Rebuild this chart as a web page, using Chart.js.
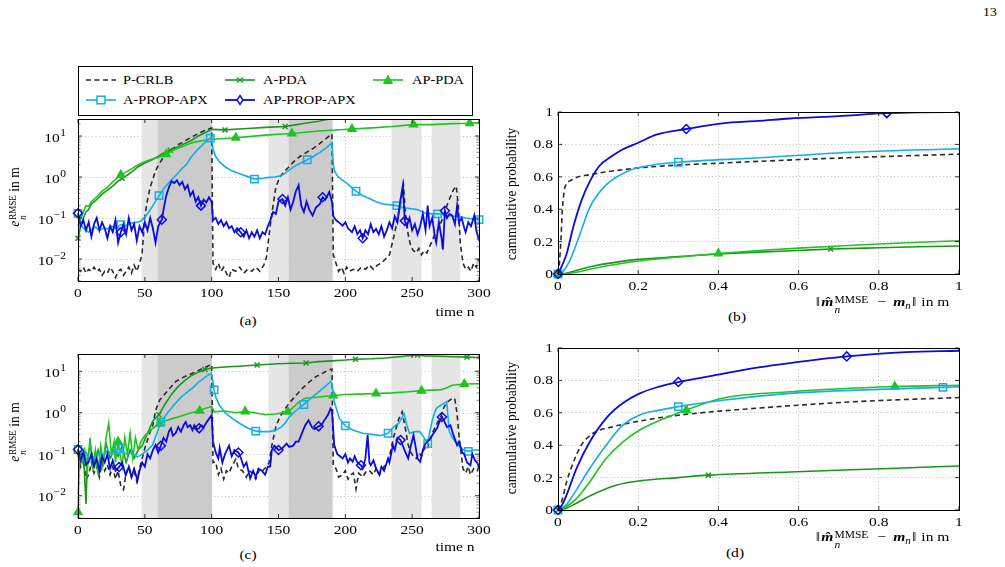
<!DOCTYPE html>
<html>
<head>
<meta charset="utf-8">
<script src="https://cdn.jsdelivr.net/npm/chart.js@4.4.1/dist/chart.umd.min.js"></script>
<style>
  body { margin:0; width:1005px; height:567px; background:#fff; position:relative; overflow:hidden; font-family:"Liberation Serif", serif; color:#000; }
  canvas { position:absolute; }
  .t { position:absolute; transform:translate(-50%,-50%) scaleX(1.15); white-space:nowrap; font-size:13.5px; }
  .rot { position:absolute; transform:translate(-50%,-50%) scaleX(1.15) rotate(-90deg); white-space:nowrap; font-size:13.5px; }
  .ss { display:inline-block; vertical-align:-6px; font-size:9px; line-height:9px; margin-left:1px; }
  .ss span { display:block; }
  .fm .ss { font-size:10px; line-height:10px; vertical-align:-7px; margin-right:2px; }
  .sb { font-size:9.5px; vertical-align:-3px; }
  .op { margin:0 6px; }
  .nm { margin:0 1px; }
  #leg { position:absolute; left:78px; top:66px; width:393px; height:48px; border:1px solid #000; }
  .li { position:absolute; font-size:12.5px; transform:translateY(-50%) scaleX(1.15); transform-origin:0 50%; white-space:nowrap; }
  .ls { position:absolute; }
</style>
</head>
<body>

<div class="t" style="left:990px;top:12px;font-size:12px">13</div>

<div id="leg"></div>
<svg class="ls" style="left:85px;top:74px" width="32" height="12"><line x1="1" y1="6" x2="31" y2="6" stroke="#2b2b2b" stroke-width="1.6" stroke-dasharray="5 3.5"/></svg>
<div class="li" style="left:123px;top:80px">P-CRLB</div>
<svg class="ls" style="left:224px;top:74px" width="32" height="12"><line x1="1" y1="6" x2="31" y2="6" stroke="#1a961a" stroke-width="1.6"/><path d="M13 3.5 L19 8.5 M19 3.5 L13 8.5" stroke="#1a961a" stroke-width="1.4"/></svg>
<div class="li" style="left:263px;top:80px">A-PDA</div>
<svg class="ls" style="left:372px;top:74px" width="32" height="12"><line x1="1" y1="6" x2="31" y2="6" stroke="#20c420" stroke-width="1.6"/><polygon points="16,1.5 20.5,9.5 11.5,9.5" fill="#20c420" stroke="#20c420"/></svg>
<div class="li" style="left:412px;top:80px">AP-PDA</div>
<svg class="ls" style="left:85px;top:94px" width="32" height="12"><line x1="1" y1="6" x2="12" y2="6" stroke="#14aee8" stroke-width="1.6"/><line x1="20" y1="6" x2="31" y2="6" stroke="#14aee8" stroke-width="1.6"/><rect x="12" y="2.2" width="8" height="7.6" fill="none" stroke="#14aee8" stroke-width="1.5"/></svg>
<div class="li" style="left:123px;top:100px">A-PROP-APX</div>
<svg class="ls" style="left:224px;top:94px" width="32" height="12"><line x1="1" y1="6" x2="13" y2="6" stroke="#0a0ae2" stroke-width="1.8"/><line x1="19" y1="6" x2="31" y2="6" stroke="#0a0ae2" stroke-width="1.8"/><polygon points="16,1.5 19,6 16,10.5 13,6" fill="none" stroke="#0a0ae2" stroke-width="1.5"/></svg>
<div class="li" style="left:263px;top:100px">AP-PROP-APX</div>

<canvas id="ca" width="500" height="195" style="left:0;top:110px"></canvas>
<canvas id="cc" width="500" height="195" style="left:0;top:345px"></canvas>
<canvas id="cb" width="455" height="200" style="left:520px;top:100px"></canvas>
<canvas id="cd" width="455" height="200" style="left:520px;top:336px"></canvas>

<div class="rot" style="left:17px;top:197px"><i>e</i><span class="ss"><span>RMSE</span><span><i>n</i></span></span> in m</div>
<div class="rot" style="left:17px;top:432px"><i>e</i><span class="ss"><span>RMSE</span><span><i>n</i></span></span> in m</div>
<div class="rot" style="left:511px;top:194px">cammulative probability</div>
<div class="rot" style="left:511px;top:428px">cammulative probability</div>

<div class="t" style="left:455px;top:312px">time n</div>
<div class="t" style="left:455px;top:547px">time n</div>
<div class="t" style="left:248px;top:321px">(a)</div>
<div class="t" style="left:248px;top:555px">(c)</div>
<div class="t" style="left:737px;top:317px">(b)</div>
<div class="t" style="left:735px;top:553px">(d)</div>
<div class="t fm" style="left:882px;top:304px"><span class="nm">‖</span><b><i>m̂</i></b><span class="ss"><span>MMSE</span><span><i>n</i></span></span><span class="op">−</span><b><i>m</i></b><span class="sb"><i>n</i></span><span class="nm">‖</span> in m</div>
<div class="t fm" style="left:882px;top:539px"><span class="nm">‖</span><b><i>m̂</i></b><span class="ss"><span>MMSE</span><span><i>n</i></span></span><span class="op">−</span><b><i>m</i></b><span class="sb"><i>n</i></span><span class="nm">‖</span> in m</div>

<script>
// ---------- axes / decorations ----------
const timeTicks = [0, 50, 100, 150, 200, 250, 300];
const timeLabels = ['0', '50', '100', '150', '200', '250', '300'];
const logMajor = [0.01, 0.1, 1, 10];
const logExp = ['\u22122', '\u22121', '0', '1'];
const cdfTicks = [0, 0.2, 0.4, 0.6, 0.8, 1];
const cdfLabels = ['0', '0.2', '0.4', '0.6', '0.8', '1'];
const lightSpans = [[47.6, 59.5], [142.5, 157.5], [234.5, 257], [264.5, 286]];
const darkSpans = [[59.5, 100.2], [157.5, 190.5]];

// ---------- (a) RMSE, scenario 1 ----------
const aCrlbN = [0,2,4,6,8,10,12,14,16,18,20,22,24,26,28,30,32,34,36,38,40,42,44,46,47,48,50,52,54,56,58,60,63,66,69,72,75,78,82,86,90,94,100,101,103,105,107,109,111,113,115,118,121,124,127,130,133,136,139,141,143,145,148,151,154,157,161,166,171,176,181,186,190,191,193,195,197,199,201,203,206,209,212,215,218,221,224,227,230,233,236,238,240,242,243.5,245,247,249,251,253,255,257,259,261,263,265,267,269,271,273,275,277,279,281,283,284.5,286,288,290,292,294,296,298,300];
const aCrlb = [0.0056,0.005,0.0063,0.0045,0.0056,0.005,0.0063,0.005,0.0056,0.004,0.005,0.0045,0.0063,0.005,0.0035,0.005,0.0056,0.004,0.005,0.0063,0.0045,0.0071,0.005,0.0079,0.01,0.0145,0.11,0.28,0.56,0.89,1.41,1.9,2.75,3.55,4.4,5.2,6.2,6.9,8.3,9.8,11.5,13.2,15.8,0.0079,0.0056,0.0079,0.005,0.0063,0.0045,0.0035,0.0056,0.005,0.0063,0.0045,0.0056,0.005,0.0063,0.005,0.0071,0.011,0.04,0.126,0.56,1.0,1.32,1.66,2.3,3.16,4.0,5.0,6.6,8.9,11.2,0.0126,0.0079,0.005,0.0063,0.0045,0.0063,0.005,0.0056,0.005,0.0063,0.0056,0.0071,0.0056,0.0071,0.0079,0.01,0.0126,0.032,0.063,0.14,0.32,0.63,0.126,0.04,0.02,0.016,0.014,0.018,0.0126,0.016,0.014,0.02,0.028,0.04,0.05,0.071,0.1,0.16,0.25,0.35,0.5,0.6,0.2,0.025,0.0079,0.0056,0.0063,0.005,0.0079,0.0063,0.01];

const aApdaN = [0,2,4,6,8,10,14,18,22,26,30,33,35,40,45,50,55,60,65,69,75,80,85,90,95,100,110,120,130,140,155,160,170,180,190,200,220,250,300];
const aApda = [0.032,0.063,0.1,0.14,0.16,0.22,0.28,0.38,0.48,0.6,0.79,0.93,1.0,1.32,1.78,2.2,2.6,3.16,4.0,4.5,5.5,6.6,7.9,10,12,14.5,14.1,14.8,15.5,16.2,17,18.2,20.4,22.9,26.9,28.8,31.6,34,36];
const aApdaMk = [0,33,69,110,155];

const aAppdaN = [0,2,4,6,8,10,14,18,22,26,30,32,35,40,45,50,55,60,66,70,75,80,85,90,95,100,110,118,130,140,150,160,170,180,190,205,220,235,251,265,280,293,300];
const aAppda = [0.063,0.1,0.14,0.2,0.19,0.25,0.33,0.45,0.56,0.76,1.0,1.12,1.26,1.58,2.0,2.34,2.7,3.0,3.6,4.3,5.0,5.9,6.8,7.4,7.9,8.3,8.7,9.1,9.8,10.5,11,11.5,12.3,13.2,13.8,14.8,15.8,17,19,19,20,20.4,20.9];
const aAppdaMk = [32,66,118,160,205,251,293];

const aApropN = [0,2,4,6,8,10,13,16,19,22,25,28,32,35,38,41,44,47,50,53,56,60.6,65,69,73,77,81,85,89,93,96,99,100,101,103,106,110,115,121,126,132,138,143,147,152,156,161,166,171.5,176,181,186,190,191,192,194,197,201,205,208,213,218,223,228,233,238.6,243,248,254,260,265,269,275,280,285,290,295,300];
const aAprop = [0.13,0.071,0.056,0.05,0.045,0.052,0.06,0.05,0.056,0.054,0.063,0.056,0.069,0.063,0.071,0.076,0.079,0.083,0.105,0.14,0.2,0.35,0.56,0.79,1.07,1.5,2.0,3.16,4.5,6.0,7.6,8.9,9.3,4.8,3.16,2.3,1.78,1.41,1.2,1.05,0.89,0.93,0.98,1.0,1.07,1.32,1.74,2.14,2.63,3.16,4.0,5.2,6.9,2.0,1.38,1.07,0.87,0.71,0.54,0.45,0.35,0.3,0.25,0.22,0.21,0.2,0.18,0.17,0.16,0.13,0.126,0.126,0.12,0.11,0.11,0.1,0.095,0.091];
const aApropMk = [0,32,60.6,99,132,171.5,208,238.6,269,300];

const aAppropN = [0,2,4,6,8,10,12,14,16,18,20,22,24,26,28,30,32,34,36,38,40,42,44,46,48,50,52,54,56,58,60,62.7,64,66,68,70,72,74,76,78,80,82,84,86,88,90,92,94,96,98,100,101,103,105,107,109,111,113,115,117,119,121.7,124,126,128,130,132,134,136,138,140,142,144,146,148,150,153,155,157,159,161,163,165,167,169,171,173,175.5,178,181,183,185,188,190,191,193,195,198,200,202,205,207,209,211,213,215,217,219,221,223,225,227,229,231,233,235,237,239,241,243,244.5,246,248,250,252,254,256,258,260,261.6,263,265,267,268,270,272,273,274.5,276,278,280,282,283.6,285,287,289,290,292,294,296.5,298,300];
const aApprop = [0.13,0.063,0.089,0.05,0.079,0.035,0.071,0.1,0.05,0.079,0.056,0.032,0.063,0.045,0.089,0.025,0.045,0.071,0.04,0.1,0.05,0.071,0.028,0.063,0.045,0.079,0.05,0.1,0.056,0.025,0.063,0.091,0.16,0.35,0.56,0.79,0.71,0.83,0.63,0.76,0.5,0.63,0.35,0.45,0.25,0.32,0.2,0.28,0.24,0.32,0.25,0.089,0.1,0.071,0.089,0.063,0.079,0.056,0.063,0.045,0.056,0.045,0.035,0.05,0.032,0.045,0.035,0.05,0.032,0.045,0.04,0.063,0.089,0.14,0.126,0.25,0.29,0.2,0.32,0.16,0.25,0.45,0.63,0.2,0.14,0.25,0.16,0.115,0.18,0.22,0.32,0.28,0.43,0.25,0.11,0.089,0.079,0.065,0.079,0.056,0.045,0.063,0.04,0.05,0.032,0.05,0.04,0.071,0.045,0.054,0.04,0.063,0.035,0.05,0.079,0.056,0.11,0.079,0.25,0.62,0.085,0.063,0.1,0.05,0.071,0.04,0.063,0.126,0.05,0.2,0.063,0.1,0.035,0.025,0.079,0.032,0.017,0.15,0.1,0.126,0.115,0.071,0.2,0.079,0.1,0.056,0.045,0.079,0.063,0.115,0.05,0.028];
const aAppropMk = [0,32,62.7,92,121.7,153,183,213,244.5,274.5];

// ---------- (c) RMSE, scenario 2 ----------
const cCrlbN = [0,2,4,6,8,10,12,14,16,18,20,22,24,26,28,30,32,34,36,38,40,42,44,46,48,50,52,54,56,58,61,64.5,69,73,79,85.6,92,99,100,101,103,105,107,109,111,113,115,118,120,123,126,128,130.6,133,136,138,141,143,145,148,151,154,158,163,168,173,178,183,188,190,191,193,195,198,200,202,204,206,208,210,213,216,218,221,223,225.5,228,231,233,236,238,240,242.5,245,247,249,251,253,255,257,259,261,263,265.6,268,271.8,274,276.8,279,281.8,283.5,285,288,290,292,293.6,296,298.6,300];
const cCrlb = [0.1,0.05,0.079,0.025,0.032,0.063,0.035,0.05,0.028,0.063,0.04,0.056,0.032,0.05,0.025,0.04,0.017,0.014,0.035,0.05,0.028,0.04,0.022,0.045,0.079,0.14,0.22,0.35,0.5,1.12,2.0,2.7,4.0,5.6,7.2,8.9,11.2,14.1,14.5,0.063,0.065,0.032,0.045,0.025,0.04,0.035,0.05,0.076,0.045,0.04,0.028,0.04,0.035,0.025,0.045,0.04,0.05,0.063,0.16,0.46,0.79,1.12,1.7,2.6,3.9,5.5,7.4,8.9,11,11.2,0.05,0.045,0.028,0.032,0.04,0.025,0.032,0.035,0.0145,0.035,0.028,0.04,0.04,0.032,0.045,0.032,0.045,0.063,0.089,0.25,0.42,0.71,1.05,0.4,0.17,0.11,0.089,0.079,0.11,0.089,0.14,0.126,0.2,0.35,0.5,0.87,1.41,1.86,2.1,2.24,1.0,0.29,0.045,0.035,0.05,0.032,0.045,0.04,0.05];

const cApdaN = [0,2,4,6,7,9,12,15,18,21,24,27,30,33,36,39,42,45,48,52,56,60.5,65,70,75,80,85,90,95,100,110,120,134,150,160,170.6,180,190,200,207.6,220,230,240,254,260,270,280,291,300];
const cApda = [0.126,0.063,0.11,0.0063,0.079,0.16,0.063,0.126,0.05,0.18,0.079,0.126,0.089,0.16,0.063,0.126,0.079,0.126,0.16,0.32,0.63,0.89,1.58,2.8,4.3,6.0,7.9,9.5,11,12,12.6,13.2,14.1,15.1,15.5,15.8,17,17.8,18.6,19.5,20,20.9,22.4,24.5,23.4,22.9,22.4,21.9,21.4];
const cApdaMk = [60.5,95,134,170.6,207.6,254,291];

const cAppdaN = [0,1,3,5,7,9,11,13,15,17,19,21,23,25,27,28,30,33,35,37,39,41,43,45,47,50,55,61,65,70,75,80,85,91,95,100,102,110,118,125,132,140,148,157,160,165,170,180,191,200,210,223,235,245,257,265,272,276,280,289,300];
const cAppda = [0.004,0.1,0.063,0.126,0.04,0.25,0.05,0.126,0.032,0.16,0.063,0.25,0.55,0.1,0.2,0.063,0.2,0.05,0.25,0.1,0.32,0.079,0.25,0.126,0.2,0.28,0.4,0.54,0.63,0.71,0.79,0.89,1.0,1.12,1.26,1.41,1.05,1.1,1.0,1.07,1.0,0.89,0.93,1.05,1.26,1.78,2.24,2.4,2.6,2.75,2.8,2.9,3.0,3.16,3.4,3.5,3.6,4.0,4.6,4.9,5.0];
const cAppdaMk = [0,30,61,91,125,157,191,223,257,289];

const cApropN = [0,2,4,6,8,10,13,16,19,22,25,28,30.7,34,37,40,44.5,48,52,55.8,59,62,66,70,73,77,81,85.6,90,95,99.4,100.5,101.8,103,105.6,110,115.6,121,127,133,138,143,148,152,155,158,163,169,175,180,185,189,190,191.7,195.6,200,206,213,220,226,232,236,240,244,246,248,252,255.6,258,261.6,263,265.3,268,270,275.8,277.8,280,284,288,292,296,300];
const cAprop = [0.13,0.1,0.079,0.11,0.071,0.089,0.079,0.11,0.089,0.126,0.1,0.12,0.135,0.11,0.1,0.11,0.085,0.1,0.126,0.166,0.32,0.6,0.89,1.32,1.7,2.34,3.0,3.9,5.4,7.1,8.9,7.1,3.55,2.4,1.55,1.0,0.72,0.55,0.43,0.36,0.35,0.35,0.38,0.45,0.56,0.79,1.12,1.58,2.34,3.16,4.3,5.6,5.0,1.86,0.72,0.48,0.38,0.32,0.3,0.28,0.32,0.45,0.56,0.95,0.5,0.32,0.35,0.35,0.28,0.18,0.32,0.72,1.26,1.41,1.86,0.35,0.25,0.166,0.13,0.117,0.126,0.126];
const cApropMk = [0,30.7,62,101.8,133,169,200,232,261.6,292];

const cAppropN = [0,2,4,6,8,10,12,14,16,18,20,22,24,26,28,30.7,33,35.7,38,40,42,44.5,46,48,50,52,54,56,58,60,62,64,66,68,69.5,71,73,75,77,79,80.6,82,84,85.6,87,89,90.6,92,94,95.6,98,100,101,103,105,106,108,110,113,115,117,120,122,124,126,128.8,131,133,135,137.5,140,142,143.8,145,147,150,153,156,158,161,163,165,168,170,172.5,175,177,180,182,185,187,189,190,191.7,194,196,198,200,202,203.5,205.5,207,209,211.7,213,215,216.7,218,219,221,223,225.5,227,229,232,233,235.6,237,239,241.3,243,245,247,249,251,253,254,256,258,260,263.6,266,268.6,270,272.3,274,276,278.6,281,283.6,285,287.5,289,291,293.6,295,297,298.6,300];
const cApprop = [0.13,0.071,0.11,0.056,0.065,0.1,0.05,0.079,0.04,0.089,0.063,0.1,0.045,0.071,0.04,0.049,0.063,0.031,0.05,0.028,0.045,0.023,0.04,0.063,0.05,0.1,0.079,0.126,0.166,0.11,0.16,0.25,0.2,0.35,0.42,0.28,0.32,0.45,0.35,0.5,0.6,0.45,0.5,0.38,0.5,0.4,0.42,0.5,0.45,0.55,0.71,0.87,0.2,0.11,0.079,0.14,0.063,0.1,0.16,0.089,0.126,0.11,0.079,0.05,0.063,0.026,0.04,0.028,0.045,0.04,0.032,0.05,0.05,0.126,0.16,0.126,0.14,0.18,0.15,0.16,0.2,0.2,0.35,0.5,0.66,0.45,0.4,0.47,0.5,0.71,0.89,1.26,1.12,0.166,0.1,0.089,0.079,0.1,0.063,0.079,0.066,0.089,0.063,0.054,0.045,0.079,0.29,0.063,0.054,0.071,0.045,0.032,0.05,0.04,0.079,0.063,0.166,0.126,0.25,0.22,0.16,0.11,0.079,0.16,0.29,0.126,0.079,0.066,0.126,0.18,0.24,0.32,0.42,0.56,0.79,0.63,0.45,0.5,0.28,0.166,0.2,0.11,0.1,0.063,0.054,0.1,0.071,0.063,0.05];
const cAppropMk = [0,30.7,62,90.6,120,150,180,211.7,241.3,272.3];

// ---------- (b) CDF, scenario 1 ----------
const bCrlbX = [0,0.003,0.007,0.011,0.016,0.022,0.03,0.046,0.079,0.12,0.162,0.245,0.41,0.66,1.0];
const bCrlb = [0,0.05,0.2,0.4,0.52,0.56,0.575,0.596,0.613,0.63,0.644,0.664,0.685,0.712,0.74];
const bApdaX = [0,0.02,0.05,0.1,0.15,0.2,0.3,0.4,0.5,0.6,0.68,0.8,0.9,1.0];
const bApda = [0,0.005,0.025,0.055,0.075,0.09,0.107,0.123,0.135,0.145,0.154,0.162,0.168,0.173];
const bApdaMk = [0,0.68];
const bAppdaX = [0,0.02,0.05,0.1,0.15,0.2,0.3,0.4,0.5,0.6,0.7,0.8,0.9,1.0];
const bAppda = [0,0.002,0.012,0.04,0.062,0.08,0.105,0.127,0.145,0.16,0.173,0.185,0.196,0.205];
const bAppdaMk = [0,0.4];
const bApropX = [0,0.012,0.029,0.054,0.079,0.12,0.179,0.229,0.3,0.495,0.744,1.0];
const bAprop = [0,0.015,0.08,0.24,0.41,0.55,0.64,0.67,0.69,0.716,0.753,0.773];
const bApropMk = [0,0.3];
const bAppropX = [0,0.021,0.037,0.058,0.079,0.104,0.13,0.162,0.2,0.245,0.32,0.41,0.5,0.578,0.7,0.82,0.9,1.0];
const bApprop = [0,0.12,0.28,0.45,0.57,0.67,0.72,0.77,0.81,0.86,0.895,0.93,0.945,0.96,0.975,0.993,0.998,1.0];
const bAppropMk = [0,0.32,0.82];

// ---------- (d) CDF, scenario 2 ----------
const dCrlbX = [0,0.01,0.021,0.033,0.046,0.058,0.071,0.085,0.104,0.13,0.162,0.245,0.328,0.495,0.744,1.0];
const dCrlb = [0,0.06,0.17,0.26,0.34,0.4,0.44,0.47,0.494,0.51,0.529,0.566,0.593,0.628,0.669,0.694];
const dApdaX = [0,0.02,0.037,0.079,0.145,0.204,0.3,0.375,0.578,0.827,1.0];
const dApda = [0,0.01,0.03,0.087,0.153,0.18,0.2,0.215,0.235,0.256,0.272];
const dApdaMk = [0,0.375];
const dAppdaX = [0,0.02,0.046,0.079,0.12,0.162,0.204,0.25,0.32,0.41,0.578,0.84,1.0];
const dAppda = [0,0.02,0.07,0.173,0.318,0.421,0.494,0.55,0.618,0.69,0.73,0.762,0.77];
const dAppdaMk = [0.32,0.84];
const dApropX = [0,0.02,0.037,0.079,0.12,0.162,0.204,0.25,0.3,0.41,0.578,0.744,0.96,1.0];
const dAprop = [0,0.03,0.09,0.256,0.4,0.525,0.587,0.615,0.638,0.677,0.72,0.74,0.757,0.76];
const dApropMk = [0,0.3,0.96];
const dAppropX = [0,0.01,0.021,0.046,0.079,0.12,0.162,0.204,0.25,0.3,0.41,0.5,0.578,0.72,0.868,1.0];
const dApprop = [0,0.03,0.09,0.256,0.42,0.566,0.66,0.72,0.76,0.79,0.84,0.88,0.907,0.948,0.975,0.983];
const dAppropMk = [0,0.3,0.72];

// ---------- styles ----------
const st = {
  crlb:   { color:'#2b2b2b', width:1.6, dash:[5,3.5], order:5 },
  apda:   { color:'#1a961a', width:1.6, ps:'crossRot', r:3.5, order:4 },
  appda:  { color:'#20c420', width:1.6, ps:'triangle', r:4.5, fill:true, order:3 },
  aprop:  { color:'#14aee8', width:1.6, ps:'rect', r:5.2, order:2 },
  approp: { color:'#0a0ae2', width:1.8, ps:'rectRot', r:4.5, order:1 }
};
const FONT = '13.5px "Liberation Serif"';
const SX = 1.15;   // the figure is a little wider than tall, text too

function ds(xs, ys, s, marks, smooth) {
  marks = marks || [];
  return {
    data: xs.map((x, i) => ({ x: x, y: ys[i] })),
    borderColor: s.color, borderWidth: s.width, borderDash: s.dash || [],
    fill: false, tension: 0, order: s.order,
    cubicInterpolationMode: smooth ? 'monotone' : 'default',
    pointStyle: s.ps || 'circle',
    pointRadius: ctx => marks.includes(xs[ctx.dataIndex]) ? s.r : 0,
    pointHoverRadius: 0,
    pointBorderColor: s.color, pointBorderWidth: 1.5,
    pointBackgroundColor: s.fill ? s.color : 'rgba(0,0,0,0)',
    clip: { left: 8, right: 8, top: 0, bottom: 8 }
  };
}

function text(ctx, str, x, y, align, font) {
  ctx.save();
  ctx.translate(x, y); ctx.scale(SX, 1);
  ctx.font = font || FONT; ctx.textAlign = align; ctx.textBaseline = 'middle';
  ctx.fillText(str, 0, 0);
  ctx.restore();
}

const shadePlugin = {
  id: 'shade',
  beforeDatasetsDraw(chart) {
    const { ctx, chartArea: a, scales: { x, y } } = chart;
    ctx.save();
    ctx.strokeStyle = '#b0b0b0'; ctx.lineWidth = 0.8; ctx.setLineDash([1, 2.5]);
    logMajor.forEach(v => {
      const py = Math.round(y.getPixelForValue(v)) + 0.5;
      ctx.beginPath(); ctx.moveTo(a.left, py); ctx.lineTo(a.right, py); ctx.stroke();
    });
    ctx.setLineDash([]);
    const fillSpans = (spans, col) => {
      ctx.fillStyle = col;
      spans.forEach(([p, q]) => {
        const l = x.getPixelForValue(p), r = x.getPixelForValue(q);
        ctx.fillRect(l, a.top, r - l, a.bottom - a.top);
      });
    };
    fillSpans(lightSpans, '#e5e5e5');
    fillSpans(darkSpans, '#cbcbcb');
    ctx.restore();
  }
};

const framePlugin = {
  id: 'frame',
  afterDatasetsDraw(chart, args, opts) {
    const { ctx, chartArea: a, scales: { x, y } } = chart;
    ctx.save();
    ctx.strokeStyle = '#000'; ctx.lineWidth = 0.8;
    ctx.beginPath();
    (opts.xt || []).forEach(v => {
      const px = x.getPixelForValue(v);
      ctx.moveTo(px, a.bottom); ctx.lineTo(px, a.bottom - 4);
      ctx.moveTo(px, a.top); ctx.lineTo(px, a.top + 4);
    });
    (opts.yt || []).forEach(v => {
      const py = y.getPixelForValue(v);
      ctx.moveTo(a.left, py); ctx.lineTo(a.left + 4, py);
      ctx.moveTo(a.right, py); ctx.lineTo(a.right - 4, py);
    });
    ctx.stroke();
    ctx.strokeStyle = '#666'; ctx.beginPath();
    (opts.ym || []).forEach(v => {
      const py = y.getPixelForValue(v);
      ctx.moveTo(a.left, py); ctx.lineTo(a.left + 2.5, py);
      ctx.moveTo(a.right, py); ctx.lineTo(a.right - 2.5, py);
    });
    ctx.stroke();
    ctx.strokeStyle = '#000'; ctx.lineWidth = 1;
    ctx.strokeRect(Math.round(a.left) + 0.5, Math.round(a.top) + 0.5,
                   Math.round(a.right - a.left), Math.round(a.bottom - a.top));
    ctx.restore();
  },
  // tick labels, drawn at the scale positions
  afterDraw(chart, args, opts) {
    const { ctx, chartArea: a, scales: { x, y } } = chart;
    ctx.save(); ctx.fillStyle = '#000';
    (opts.xt || []).forEach((v, i) => text(ctx, opts.xl[i], x.getPixelForValue(v), a.bottom + 12.5, 'center'));
    if (opts.log) {
      logMajor.forEach((v, i) => {
        const py = y.getPixelForValue(v);
        const right = a.left - 12;
        ctx.font = '10px "Liberation Serif"';
        const ew = ctx.measureText(logExp[i]).width * SX;
        text(ctx, logExp[i], right - ew, py - 3, 'left', '10px "Liberation Serif"');
        text(ctx, '10', right - ew - 0.5, py + 2, 'right');
      });
    } else {
      (opts.yt || []).forEach((v, i) => text(ctx, opts.yl[i], a.left - 5, y.getPixelForValue(v) + 0.5, 'right'));
    }
    ctx.restore();
  }
};

// minor tick positions of the log axis (2..9 x 10^k)
const logMinor = [];
for (let k = -3; k <= 1; k++) for (let m = 2; m <= 9; m++) {
  const v = m * Math.pow(10, k);
  if (v > 0.0029 && v < 26) logMinor.push(v);
}

function rmseChart(id, sets, xh) {
  return new Chart(document.getElementById(id), {
    type: 'line',
    data: { datasets: sets },
    options: {
      responsive: false, animation: false, events: [],
      layout: { padding: { top: 9, right: 21, left: 0, bottom: 0 } },
      plugins: { legend: { display: false }, tooltip: { enabled: false },
                 frame: { xt: timeTicks, xl: timeLabels, yt: logMajor, ym: logMinor, log: true } },
      scales: {
        x: { type: 'linear', min: 0, max: 300,
             ticks: { stepSize: 50, display: false },
             grid: { color: '#b0b0b0', lineWidth: 0.8, drawTicks: false },
             border: { display: false, dash: [1, 2.5] },
             afterFit(s) { s.height = xh; } },
        y: { type: 'logarithmic', min: 0.0029, max: 26,
             ticks: { display: false }, grid: { display: false }, border: { display: false },
             afterFit(s) { s.width = 78; } }
      }
    },
    plugins: [shadePlugin, framePlugin]
  });
}

function cdfChart(id, sets) {
  return new Chart(document.getElementById(id), {
    type: 'line',
    data: { datasets: sets },
    options: {
      responsive: false, animation: false, events: [],
      layout: { padding: { top: 12, right: 16, left: 0, bottom: 0 } },
      plugins: { legend: { display: false }, tooltip: { enabled: false },
                 frame: { xt: cdfTicks, xl: cdfLabels, yt: cdfTicks, yl: cdfLabels } },
      scales: {
        x: { type: 'linear', min: 0, max: 1,
             ticks: { stepSize: 0.2, display: false },
             grid: { color: '#b0b0b0', lineWidth: 0.8, drawTicks: false },
             border: { display: false, dash: [1, 2.5] },
             afterFit(s) { s.height = 26; } },
        y: { type: 'linear', min: 0, max: 1,
             ticks: { stepSize: 0.2, display: false },
             grid: { color: '#b0b0b0', lineWidth: 0.8, drawTicks: false },
             border: { display: false, dash: [1, 2.5] },
             afterFit(s) { s.width = 38; } }
      }
    },
    plugins: [framePlugin]
  });
}

rmseChart('ca', [
  ds(aCrlbN, aCrlb, st.crlb),
  ds(aApdaN, aApda, st.apda, aApdaMk),
  ds(aAppdaN, aAppda, st.appda, aAppdaMk),
  ds(aApropN, aAprop, st.aprop, aApropMk),
  ds(aAppropN, aApprop, st.approp, aAppropMk)
], 24);

rmseChart('cc', [
  ds(cCrlbN, cCrlb, st.crlb),
  ds(cApdaN, cApda, st.apda, cApdaMk),
  ds(cAppdaN, cAppda, st.appda, cAppdaMk),
  ds(cApropN, cAprop, st.aprop, cApropMk),
  ds(cAppropN, cApprop, st.approp, cAppropMk)
], 22);

cdfChart('cb', [
  ds(bCrlbX, bCrlb, st.crlb, [], true),
  ds(bApdaX, bApda, st.apda, bApdaMk, true),
  ds(bAppdaX, bAppda, st.appda, bAppdaMk, true),
  ds(bApropX, bAprop, st.aprop, bApropMk, true),
  ds(bAppropX, bApprop, st.approp, bAppropMk, true)
]);

cdfChart('cd', [
  ds(dCrlbX, dCrlb, st.crlb, [], true),
  ds(dApdaX, dApda, st.apda, dApdaMk, true),
  ds(dAppdaX, dAppda, st.appda, dAppdaMk, true),
  ds(dApropX, dAprop, st.aprop, dApropMk, true),
  ds(dAppropX, dApprop, st.approp, dAppropMk, true)
]);
</script>
</body>
</html>
